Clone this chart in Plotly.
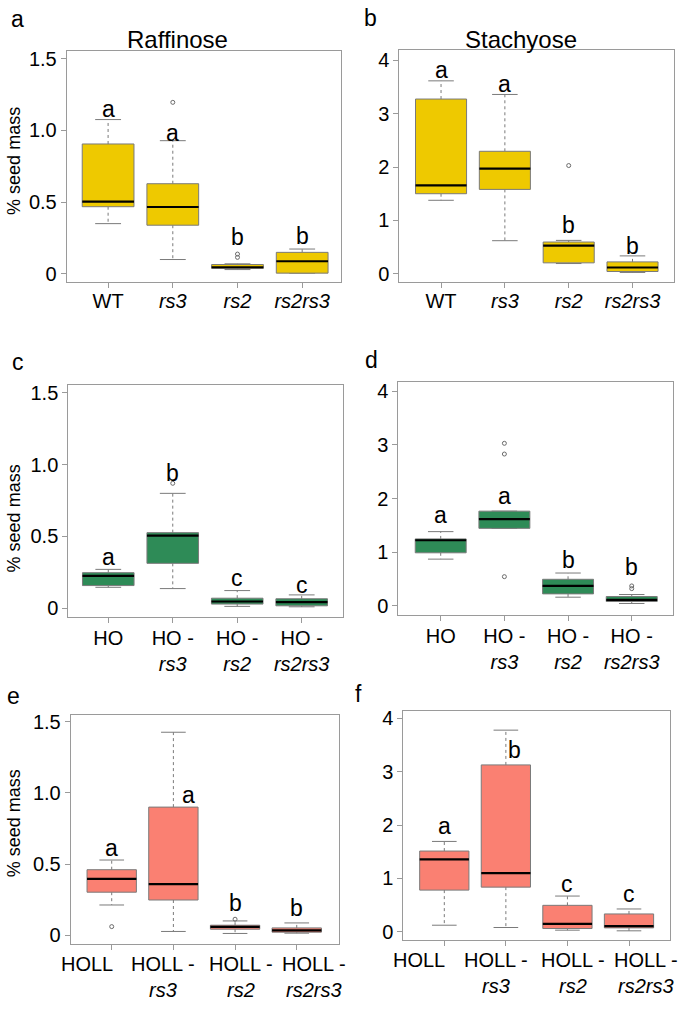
import plotly.graph_objects as go

# ---------------- data ----------------
cats_wt = ["WT", "rs3", "rs2", "rs2rs3"]
cats_ho = ["HO", "HO - rs3", "HO - rs2", "HO - rs2rs3"]
cats_holl = ["HOLL", "HOLL - rs3", "HOLL - rs2", "HOLL - rs2rs3"]

# a: Raffinose, WT background
raf_wt_lower = [0.35, 0.10, 0.030, 0.005]
raf_wt_q1 = [0.468, 0.339, 0.038, 0.005]
raf_wt_med = [0.503, 0.466, 0.046, 0.088]
raf_wt_q3 = [0.905, 0.628, 0.065, 0.150]
raf_wt_upper = [1.075, 0.928, 0.070, 0.173]
raf_wt_out = [[], [1.195], [0.138, 0.115], []]
raf_wt_letters = ["a", "a", "b", "b"]

# b: Stachyose, WT background
sta_wt_lower = [1.377, 0.62, 0.192, 0.025]
sta_wt_q1 = [1.50, 1.581, 0.205, 0.043]
sta_wt_med = [1.656, 1.972, 0.527, 0.118]
sta_wt_q3 = [3.274, 2.295, 0.595, 0.223]
sta_wt_upper = [3.615, 3.36, 0.626, 0.335]
sta_wt_out = [[], [], [2.028], []]
sta_wt_letters = ["a", "a", "b", "b"]

# c: Raffinose, HO background
raf_ho_lower = [0.145, 0.136, 0.012, 0.009]
raf_ho_q1 = [0.157, 0.312, 0.028, 0.016]
raf_ho_med = [0.224, 0.505, 0.046, 0.042]
raf_ho_q3 = [0.247, 0.526, 0.069, 0.065]
raf_ho_upper = [0.270, 0.800, 0.122, 0.092]
raf_ho_out = [[], [0.87], [], []]
raf_ho_letters = ["a", "b", "c", "c"]

# d: Stachyose, HO background
sta_ho_lower = [0.87, 1.444, 0.16, 0.043]
sta_ho_q1 = [0.988, 1.444, 0.222, 0.080]
sta_ho_med = [1.222, 1.617, 0.370, 0.111]
sta_ho_q3 = [1.247, 1.765, 0.494, 0.173]
sta_ho_upper = [1.383, 1.765, 0.611, 0.210]
sta_ho_out = [[], [3.03, 2.83, 0.543], [], [0.37, 0.32]]
sta_ho_letters = ["a", "a", "b", "b"]

# e: Raffinose, HOLL background
raf_holl_lower = [0.212, 0.026, 0.012, 0.014]
raf_holl_q1 = [0.302, 0.247, 0.042, 0.021]
raf_holl_med = [0.395, 0.358, 0.058, 0.033]
raf_holl_q3 = [0.460, 0.900, 0.070, 0.051]
raf_holl_upper = [0.528, 1.426, 0.100, 0.086]
raf_holl_out = [[0.06], [], [0.112], []]
raf_holl_letters = ["a", "a", "b", "b"]

# f: Stachyose, HOLL background
sta_holl_lower = [0.124, 0.081, 0.031, 0.019]
sta_holl_q1 = [0.781, 0.837, 0.062, 0.074]
sta_holl_med = [1.358, 1.098, 0.149, 0.105]
sta_holl_q3 = [1.513, 3.126, 0.496, 0.335]
sta_holl_upper = [1.693, 3.777, 0.670, 0.428]
sta_holl_out = [[], [], [], []]
sta_holl_letters = ["a", "b", "c", "c"]

raf_ticks = [0, 0.5, 1.0, 1.5]
raf_ticktext = ["0", "0.5", "1.0", "1.5"]
sta_ticks = [0, 1, 2, 3, 4]
sta_ticktext = ["0", "1", "2", "3", "4"]

# ---------------- layout constants ----------------
W, H = 691, 1009
FONT = "Liberation Sans, Arial, Helvetica, sans-serif"
YELLOW, GREEN, SALMON = "#EEC900", "#2E8B57", "#FA8072"
EDGE = "#7a7a7a"
FRAME = "#9a9a9a"
BW, CW = 0.4, 0.2
TICK_SIZE, LETTER_SIZE, TITLE_SIZE, YTITLE_SIZE = 20, 23, 24, 18

# letter label centre heights (annotation positions, data units) and x pixel shifts
letter_pos = {
    1: ([1.15, 0.98, 0.26, 0.265], [0, 0, 0, 0]),
    2: ([3.81, 3.55, 0.91, 0.527], [0, 0, 0, 0]),
    3: ([0.358, 0.942, 0.208, 0.162], [0, 0, 0, 0]),
    4: ([1.685, 2.056, 0.852, 0.728], [0, 0, 0, 0]),
    5: ([0.612, 0.984, 0.228, 0.193], [0, 15, 0, 0]),
    6: ([1.984, 3.40, 0.887, 0.70], [0, 9, 0, 0]),
}

# frames in pixels: left, right, top, bottom ; x range ; y range
panels = [
    dict(n=1, px=(66.7, 341, 47, 280), xr=(0.36, 4.6), yr=(-0.057, 1.555), raf=True,
         d=(raf_wt_lower, raf_wt_q1, raf_wt_med, raf_wt_q3, raf_wt_upper, raf_wt_out),
         letters=raf_wt_letters, cats=cats_wt, color=YELLOW),
    dict(n=2, px=(399.3, 674, 46.7, 280), xr=(0.346, 4.65), yr=(-0.155, 4.186), raf=False,
         d=(sta_wt_lower, sta_wt_q1, sta_wt_med, sta_wt_q3, sta_wt_upper, sta_wt_out),
         letters=sta_wt_letters, cats=cats_wt, color=YELLOW),
    dict(n=3, px=(68.3, 342.7, 383.3, 617.7), xr=(0.38, 4.636), yr=(-0.065, 1.558), raf=True,
         d=(raf_ho_lower, raf_ho_q1, raf_ho_med, raf_ho_q3, raf_ho_upper, raf_ho_out),
         letters=raf_ho_letters, cats=cats_ho, color=GREEN),
    dict(n=4, px=(398.3, 673.3, 381, 615), xr=(0.334, 4.653), yr=(-0.167, 4.167), raf=False,
         d=(sta_ho_lower, sta_ho_q1, sta_ho_med, sta_ho_q3, sta_ho_upper, sta_ho_out),
         letters=sta_ho_letters, cats=cats_ho, color=GREEN),
    dict(n=5, px=(70.7, 339.3, 715.7, 946.7), xr=(0.335, 4.69), yr=(-0.063, 1.549), raf=True,
         d=(raf_holl_lower, raf_holl_q1, raf_holl_med, raf_holl_q3, raf_holl_upper, raf_holl_out),
         letters=raf_holl_letters, cats=cats_holl, color=SALMON),
    dict(n=6, px=(403.3, 670, 711.7, 942.7), xr=(0.334, 4.666), yr=(-0.156, 4.14), raf=False,
         d=(sta_holl_lower, sta_holl_q1, sta_holl_med, sta_holl_q3, sta_holl_upper, sta_holl_out),
         letters=sta_holl_letters, cats=cats_holl, color=SALMON),
]


def fmt_label(c):
    if " - " in c:
        a, b = c.split(" - ")
        return f"{a} -<br><i>{b}</i>"
    if c.startswith("rs"):
        return f"<i>{c}</i>"
    return c


fig = go.Figure()
annotations = []
layout = {}

for p in panels:
    n = p["n"]
    xa, ya = f"x{n}", f"y{n}"
    lower, q1, med, q3, upper, outs = p["d"]
    color = p["color"]
    # whiskers (dashed)
    wx, wy = [], []
    for i in range(4):
        x = i + 1
        wx += [x, x, None, x, x, None]
        wy += [q3[i], upper[i], None, q1[i], lower[i], None]
    fig.add_trace(go.Scatter(x=wx, y=wy, xaxis=xa, yaxis=ya, mode="lines",
                             line=dict(color=EDGE, width=1, dash="3px,3px"),
                             hoverinfo="skip", showlegend=False))
    # caps
    cx, cy = [], []
    for i in range(4):
        x = i + 1
        cx += [x - CW, x + CW, None, x - CW, x + CW, None]
        cy += [upper[i], upper[i], None, lower[i], lower[i], None]
    fig.add_trace(go.Scatter(x=cx, y=cy, xaxis=xa, yaxis=ya, mode="lines",
                             line=dict(color=EDGE, width=1),
                             hoverinfo="skip", showlegend=False))
    # boxes
    for i in range(4):
        x = i + 1
        fig.add_trace(go.Scatter(x=[x - BW, x + BW, x + BW, x - BW, x - BW],
                                 y=[q1[i], q1[i], q3[i], q3[i], q1[i]],
                                 xaxis=xa, yaxis=ya, mode="lines", fill="toself",
                                 fillcolor=color, line=dict(color=EDGE, width=1),
                                 hoverinfo="skip", showlegend=False))
    # medians
    mx, my = [], []
    for i in range(4):
        x = i + 1
        mx += [x - BW, x + BW, None]
        my += [med[i], med[i], None]
    fig.add_trace(go.Scatter(x=mx, y=my, xaxis=xa, yaxis=ya, mode="lines",
                             line=dict(color="black", width=2.2),
                             hoverinfo="skip", showlegend=False))
    # outliers
    ox, oy = [], []
    for i in range(4):
        for v in outs[i]:
            ox.append(i + 1)
            oy.append(v)
    if ox:
        fig.add_trace(go.Scatter(x=ox, y=oy, xaxis=xa, yaxis=ya, mode="markers",
                                 marker=dict(symbol="circle-open", size=4,
                                             color="#6a6a6a", line=dict(width=1)),
                                 hoverinfo="skip", showlegend=False))
    # letters
    ly, lshift = letter_pos[n]
    for i, t in enumerate(p["letters"]):
        annotations.append(dict(x=i + 1, y=ly[i], xref=xa, yref=ya, text=t,
                                showarrow=False, xshift=lshift[i], yanchor="middle",
                                font=dict(family=FONT, size=LETTER_SIZE, color="black")))

    L, R, T, B = p["px"]
    bottom_row = n in (5, 6)
    xkey = "xaxis" if n == 1 else f"xaxis{n}"
    ykey = "yaxis" if n == 1 else f"yaxis{n}"
    layout[xkey] = dict(domain=[L / W, R / W], range=list(p["xr"]), anchor=ya,
                        tickvals=[1, 2, 3, 4],
                        ticktext=[fmt_label(c) for c in p["cats"]],
                        showticklabels=not bottom_row,
                        ticklabelstandoff=-4 if n in (1, 2) else -2,
                        ticks="outside", ticklen=5, tickcolor=FRAME, tickwidth=1,
                        showline=True, mirror=True, linecolor=FRAME, linewidth=1,
                        showgrid=False, zeroline=False, fixedrange=True,
                        tickfont=dict(family=FONT, size=TICK_SIZE, color="black"))
    layout[ykey] = dict(domain=[1 - B / H, 1 - T / H], range=list(p["yr"]), anchor=xa,
                        tickvals=raf_ticks if p["raf"] else sta_ticks,
                        ticktext=raf_ticktext if p["raf"] else sta_ticktext,
                        ticks="outside", ticklen=5, tickcolor=FRAME, tickwidth=1,
                        showline=True, mirror=True, linecolor=FRAME, linewidth=1,
                        showgrid=False, zeroline=False, fixedrange=True,
                        tickfont=dict(family=FONT, size=TICK_SIZE, color="black"))
    if bottom_row:
        shifts = [-25, -10, 6, 17]
        for i, c in enumerate(p["cats"]):
            annotations.append(dict(x=i + 1, y=0, xref=xa, yref=f"{ya} domain",
                                    text=fmt_label(c), showarrow=False,
                                    xshift=shifts[i], yshift=-7, yanchor="top",
                                    align="center",
                                    font=dict(family=FONT, size=TICK_SIZE, color="black")))

# panel letters, titles, y titles (paper coords from pixels)
for txt, x, y in [("a", 17, 15), ("b", 370, 14), ("c", 18, 360),
                  ("d", 372, 358), ("e", 13, 697), ("f", 358, 695)]:
    annotations.append(dict(x=x / W, y=1 - y / H, xref="paper", yref="paper", text=txt,
                            showarrow=False, xanchor="center", yanchor="middle",
                            font=dict(family=FONT, size=LETTER_SIZE, color="black")))
for txt, x, y in [("Raffinose", 177, 36), ("Stachyose", 521, 36)]:
    annotations.append(dict(x=x / W, y=1 - y / H, xref="paper", yref="paper", text=txt,
                            showarrow=False, xanchor="center", yanchor="middle",
                            font=dict(family=FONT, size=TITLE_SIZE, color="black")))
for y in (158, 518, 825):
    annotations.append(dict(x=14 / W, y=1 - y / H, xref="paper", yref="paper",
                            text="% seed mass", textangle=-90, showarrow=False,
                            xanchor="center", yanchor="middle",
                            font=dict(family=FONT, size=YTITLE_SIZE, color="black")))

fig.update_layout(width=W, height=H, margin=dict(l=0, r=0, t=0, b=0),
                  paper_bgcolor="white", plot_bgcolor="white",
                  showlegend=False, annotations=annotations, **layout)

fig.write_html("out.html")
